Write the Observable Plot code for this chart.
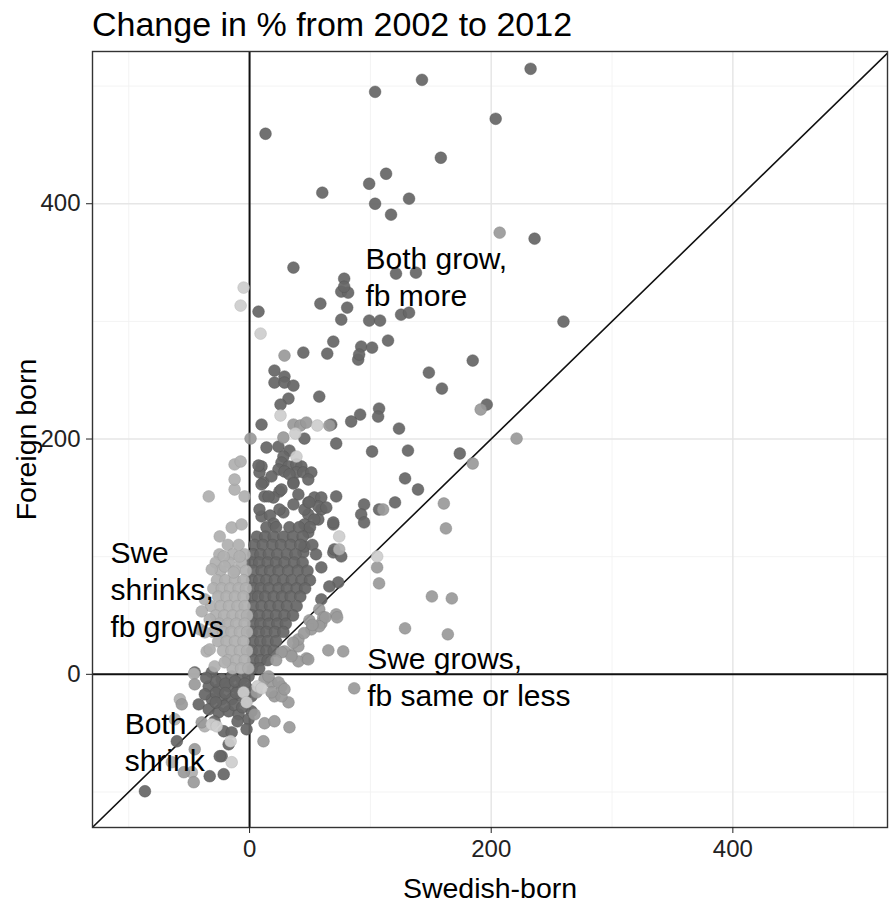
<!DOCTYPE html>
<html><head><meta charset="utf-8">
<script src="https://cdn.jsdelivr.net/npm/d3@7"></script>
<script src="https://cdn.jsdelivr.net/npm/@observablehq/plot@0.6"></script>
<style>
body{margin:0;background:#fff;font-family:"Liberation Sans",Arial,sans-serif;}
#title{height:40px;box-sizing:border-box;padding:7px 0 0 92px;font-size:34px;line-height:35px;color:#000;white-space:nowrap;}
</style></head><body>
<div id="title"></div>
<div id="chart"></div>
<script>
const titleText = "Change in % from 2002 to 2012";
const xTitle = "Swedish-born";
const yTitle = "Foreign born";
const xTicks = [0, 200, 400];
const yTicks = [0, 200, 400];
const minorTicks = [-100, 100, 300, 500];
const identityLine = [-140, 540];

const annotations = [
  {label: "Both grow,\nfb more", x: 95.9, y: 367},
  {label: "Swe\nshrinks,\nfb grows", x: -115.2, y: 117},
  {label: "Swe grows,\nfb same or less", x: 97.3, y: 26.5},
  {label: "Both\nshrink", x: -103.4, y: -28.2}
];

// dark points: both grow, fb more (scattered)
const darkPts = [
[232.6,514.7],[142.7,505.3],[103.9,495.1],[13.2,459.5],[203.7,472.2],[158.3,439.1],[113,425.5],[99,417],[132,404.3],[103.9,400],[117.1,390.7],[60.2,409.4],[235.9,370.3],[36.3,345.7],[121.2,340.6],[137.7,341.4],[78.3,336.3],[75.9,325.3],[81.6,324.4],[78.3,329.5],[80.8,311.7],[58.6,315.1],[7.4,308.3],[75.9,301.5],[99,300.7],[108,300.7],[125.4,305.7],[132,307.4],[259.8,299.8],[69.3,282.8],[44.5,273.5],[64.3,272.6],[92.4,278.6],[101.4,277.7],[89.9,267.5],[90.7,271.8],[114.6,283.7],[20.6,258.2],[28.9,253.1],[20.6,248],[28.9,248],[36.3,245.4],[184.7,266.7],[148.4,256.5],[159.2,242.9],[32.2,234.4],[57.7,236.1],[196.3,229.3],[174,187.7],[123.7,208.9],[131.1,190.2],[101.4,189.4],[128.7,166.5],[139.4,157.1],[107.2,225.9],[106.4,219.1],[91.5,220.8],[84.1,214.9],[67.6,212.3],[71.7,196.2],[25.6,229.3],[9.9,212.3],[45.4,200.4],
[14,192.8],[23.9,193.6],[33,190.2],[28,185.1],[26.4,180],[32.2,176.7],[23.9,174.1],[28.9,172.4],[38.8,178.4],[42.9,176.7],[38.8,171.6],[44.5,171.6],[51.1,171.6],[48.6,165.6],[36.3,163.1],[33,169.9],[9.9,176.7],[8.2,171.6],[11.5,163.1],[18.1,168.2],[24.7,155.4],[19.8,150.3],[12.4,151.2],[40.4,152.9],[53.6,150.3],[71.7,151.2],[7.4,177.5],[9.9,161.4],[59.4,150.3],[48.6,146.1],[59.4,140.1],[48.6,135.9],[56.9,131.6],[36.3,144.4],[28,137.6],[9.9,134.2],[15.7,151.2],[8.2,140.1],[45.4,127.4],[48.6,120.6],[53.6,131.6],[56.9,142.7],[45.4,140.1],[24.7,140.1],[44.5,103.6],[45.4,108.7],[69.3,103.6],[70.1,106.2],[120.4,146.1],[107.2,140.1],[94.8,144.4],[92.4,135.9],[94.8,129.1],[69.3,127.4],[75.9,100.2],[59.4,90.9],[73.4,78.1],[66,74.7],[59.4,63.7],[26.4,157.1],[36.3,162.2],[49.5,146.1],[63.5,141.8],[69.3,129.1],[17,135],[20,128]
];

// dense dark core: [y, [x values]]
const darkCoreRows = [
[125,[14,22,33,41,50]],
[117,[6,13,20,28,36,44]],
[110,[4,11,19,26,34,42,52]],
[102,[3,9,16,23,31,38,55]],
[95,[2,8,15,22,29,37,44]],
[88,[3,10,17,24,32,40,48]],
[80,[2,8,14,21,28,35,43,50]],
[73,[3,9,16,24,31,39,46]],
[66,[2,7,13,20,27,34,42]],
[58,[3,10,17,24,31,39]],
[50,[2,8,15,22,29,36]],
[43,[3,9,16,23,30]],
[36,[2,8,14,21,28]],
[28,[3,9,15,22]],
[20,[2,8,14,20]],
[12,[3,9,15]],
[5,[2,8]]
];

// dark points: both shrink
const darkShrinkPts = [
[-31.3,1.7],[-23.1,-4.2],[-14.8,-1.7],[-6.6,-4.2],[-0.8,-1.7],[-33.8,-10.2],[-25.6,-12.7],[-17.3,-10.2],[-9.1,-12.7],[-0.8,-12.7],[-31.3,-21.2],[-23.1,-21.2],[-14.8,-21.2],[-6.6,-18.7],[1.6,-18.7],[-42.1,-25.5],[-33.8,-29.7],[-25.6,-32.3],[-17.3,-31.4],[-9.1,-34],[1.6,-31.4],[-0.8,-38.2],[-21.4,-48.4],[-14.8,-49.3],[-17.3,-59.5],[-2.5,-46.7],[-60.2,-56.9],[-23.1,-69.6],[-33,-86.6],[-21.4,-84.9],[-86.6,-99.4],[-24.7,-69.6],[-28,-6],[-20,-8],[-12,-6],[-4,-8],[-36,-3],[-28,-16],[-20,-16],[-11,-16],[-3,-24],[-37,-17],[-13,-26],[-21,-27],[-28,-24],[-6,-28],[-10,-40],[-29,-40],[-45.4,1.7]
];

// medium grey points
const midPts = [
[28.9,270.9],[207,375.4],[191.3,225.1],[221,200.4],[184.7,179.2],[36.3,212.3],[42.1,211.5],[47,214],[66,211.5],[0.8,200.4],[28,201.3],[160.8,145.2],[162.5,124],[110.5,140.1],[105.6,90.9],[107.2,77.3],[57.7,55.2],[61,48.4],[59.4,43.3],[49.5,45.9],[150.9,66.2],[167.4,64.5],[128.7,39.1],[164.1,34],[65.2,20.4],[77.5,19.5],[47,13.6],[40.4,11],[34.6,17],[28.9,19.5],[71.7,51],[40.4,23.8],[34.6,15.3],[48.6,12.7],[26.4,18.7],[62.7,48.4],[72.5,48.4],[51.1,38.2],[57.7,40.8],[40.4,29.7],[45,35],[52,42],[36,27],[22,12],
[4.1,-34],[12.4,-41.6],[20.6,-39.9],[33,-45],[11.5,-56.9],[20.6,-18.7],[32.2,-23.8],[26.4,-10.2],[18.1,-6.8],[12.4,-4.2],[86.6,-11.9],[26.4,-18.7],[5.8,-15.3],[15.7,-1.7],[24,-6.8],[28.9,-12.7],[18.1,-15.3],
[-56.1,-25.5],[-45.4,-8.5],[-39.6,-40.8],[-46.2,-91.7],[-54.4,-83.2],[-45.4,-63.7]
];

// light grey points: Swe shrinks, fb grows (scattered)
const lightPts = [
[-12.4,178.4],[-7.4,180.9],[-12.4,157.1],[-4.1,151.2],[-33.8,151.2],[-12.4,165.6],[-24.7,117.2],[-14.8,124.8],[-6.6,127.4],[-21.4,100.2],[-8.2,100.2],[-31.3,89.2],[-20.6,91.7],[-13.2,86.6],[-37,63.7],[-39.6,53.5],[-33,46.7],[-41.2,38.2],[-37,35.7],[-35.5,19.5],[-33,21.2],[-28.9,6.8],[-20.6,10.2],[-46,0.5],[74.2,106.2],[-57.7,-21.2],[-61.9,-38.2],[-37.1,-44.2],[-64.3,-74.7],[-47.8,-83.2]
];

// dense light core: [y, [x values]]
const lightCoreRows = [
[110,[-18,-9]],
[102,[-25,-14,-4]],
[95,[-28,-17,-7]],
[88,[-24,-12,-3]],
[80,[-27,-20,-12,-5]],
[73,[-30,-23,-16,-9,-3]],
[66,[-26,-19,-12,-5]],
[58,[-32,-24,-17,-10,-4]],
[50,[-28,-21,-14,-7,-2]],
[43,[-25,-18,-11,-4]],
[36,[-30,-22,-15,-8,-2]],
[28,[-26,-19,-12,-5]],
[20,[-22,-15,-8,-2]],
[12,[-18,-11,-4]],
[5,[-14,-7,-1]]
];

// pale points
const palePts = [
[-4.9,328.7],[-7.4,313.4],[9.1,289.6],[25.6,220],[37.9,204.7],[56.1,211.5],[38.8,185.1],[105.6,100.2],[74.2,117.2],[-31.3,-42.5],[-27.2,-44.2],[-15.7,-56.9],[-14.8,-74.7],[-5,-15.3],[-2.5,-23.8],[6.6,-10.2],[9.9,-11.9]
];

document.getElementById("title").textContent = titleText;

const toXY = pts => pts.map(([x, y]) => ({x, y}));
const fromRows = rows => rows.flatMap(([y, xs]) => xs.map(x => ({x, y})));

const dark = [...toXY(darkPts), ...fromRows(darkCoreRows), ...toXY(darkShrinkPts)];
const light = [...fromRows(lightCoreRows), ...toXY(lightPts)];
const mid = toXY(midPts);
const pale = toXY(palePts);

const dotStyle = (fill, stroke) => ({x: "x", y: "y", r: 5.9, fill, stroke, strokeWidth: 0.7, strokeOpacity: 0.6, fillOpacity: 0.93});
const font = "'Liberation Sans', Arial, sans-serif";

const chart = Plot.plot({
  width: 889,
  height: 865,
  marginTop: 11,
  marginBottom: 78,
  marginLeft: 92,
  marginRight: 2,
  x: {domain: [-130, 528], label: null},
  y: {domain: [-130.2, 529.4], label: null},
  style: {fontFamily: font, background: "#fff"},
  marks: [
    Plot.gridX(minorTicks, {stroke: "#f2f2f2", strokeOpacity: 1, strokeWidth: 0.9}),
    Plot.gridY(minorTicks, {stroke: "#f2f2f2", strokeOpacity: 1, strokeWidth: 0.9}),
    Plot.gridX(xTicks, {stroke: "#e6e6e6", strokeOpacity: 1, strokeWidth: 1.5}),
    Plot.gridY(yTicks, {stroke: "#e6e6e6", strokeOpacity: 1, strokeWidth: 1.5}),
    Plot.ruleX([0], {stroke: "#111", strokeWidth: 2}),
    Plot.ruleY([0], {stroke: "#111", strokeWidth: 2}),
    Plot.line(identityLine, {x: d => d, y: d => d, stroke: "#111", strokeWidth: 1.6, clip: true}),
    Plot.dot(dark, dotStyle("#666666", "#525252")),
    Plot.dot(light, dotStyle("#afafaf", "#989898")),
    Plot.dot(mid, dotStyle("#9a9a9a", "#808080")),
    Plot.dot(pale, dotStyle("#cdcdcd", "#b0b0b0")),
    Plot.frame({stroke: "#333", strokeWidth: 1.4}),
    Plot.axisX(xTicks, {tickSize: 6, tickPadding: 6, fontSize: 24, color: "#222", label: null}),
    Plot.axisY(yTicks, {tickSize: 6, tickPadding: 6, fontSize: 24, color: "#222", label: null}),
    Plot.text(annotations, {x: "x", y: "y", text: "label", textAnchor: "start", lineAnchor: "top", fontSize: 30, lineHeight: 1.23, fill: "#000"}),
    Plot.text([xTitle], {frameAnchor: "bottom", dy: 61, textAnchor: "middle", lineAnchor: "middle", fontSize: 28.5, fill: "#000"}),
    Plot.text([yTitle], {frameAnchor: "left", dx: -66, rotate: -90, textAnchor: "middle", lineAnchor: "middle", fontSize: 28.5, fill: "#000"})
  ]
});
document.getElementById("chart").appendChild(chart);
</script></body></html>
